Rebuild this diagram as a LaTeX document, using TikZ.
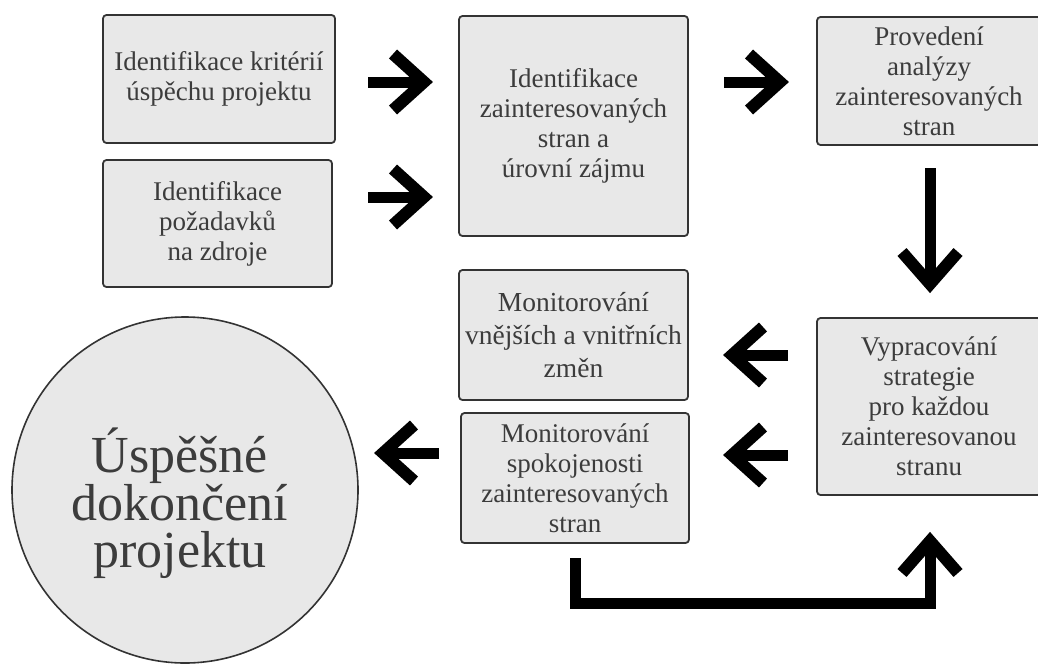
\documentclass[tikz,border=0pt]{standalone}
\usepackage{fontspec}
\setmainfont{Liberation Serif}
\usetikzlibrary{positioning}
\definecolor{boxfill}{HTML}{E8E8E8}
\definecolor{boxline}{HTML}{333333}
\definecolor{txt}{HTML}{3C3C3C}
\begin{document}
\begin{tikzpicture}[x=1pt,y=-1pt,
  stepbox/.style={draw=boxline, line width=1.8pt, fill=boxfill, rounded corners=3.5pt,
    text=txt, align=center, inner sep=0pt,
    font=\fontsize{27}{30}\selectfont},
  goal/.style={circle, draw=boxline, line width=1.6pt, fill=boxfill, minimum size=346pt,
    inner sep=0pt},
  shaft/.style={line width=11pt, line cap=butt, line join=miter},
  barb/.style={line width=12pt, line cap=butt, line join=miter, miter limit=4}]
\useasboundingbox (0,0) rectangle (1038,664);
\clip (0,0) rectangle (1038,664);

% process boxes
\node[stepbox, minimum width=232pt, minimum height=128pt] (A) at (219,79)
  {Identifikace kritérií\\úspěchu projektu};
\node[stepbox, minimum width=229pt, minimum height=127pt] (B) at (217.5,223.5)
  {Identifikace\\požadavků\\na zdroje};
\node[stepbox, minimum width=229pt, minimum height=220pt] (C) at (573.5,126)
  {Identifikace\\zainteresovaných\\stran a\\úrovní zájmu};
\node[stepbox, minimum width=224pt, minimum height=128pt] (D) at (929,81)
  {Provedení\\analýzy\\zainteresovaných\\stran};
\node[stepbox, minimum width=229pt, minimum height=130pt,
  font=\fontsize{27.5}{33}\selectfont] (E) at (573.5,335)
  {Monitorování\\vnějších a vnitřních\\změn};
\node[stepbox, minimum width=228pt, minimum height=130pt] (F) at (575,478)
  {Monitorování\\spokojenosti\\zainteresovaných\\stran};
\node[stepbox, minimum width=224pt, minimum height=177pt] (G) at (929,406.5)
  {Vypracování\\strategie\\pro každou\\zainteresovanou\\stranu};

% final goal
\node[goal] (H) at (185,490) {};
\node[text=txt, align=center, font=\fontsize{52}{47}\selectfont] (Ht) at (180,503)
  {Úspěšné\\dokončení\\projektu};

% arrow shafts: start and tip vertex
\coordinate (a1s) at (368,82);  \coordinate (a1t) at (424,82);
\coordinate (a2s) at (368,197); \coordinate (a2t) at (424,197);
\coordinate (a3s) at (724,82);  \coordinate (a3t) at (780,82);
\coordinate (a4s) at (930,168); \coordinate (a4t) at (930,284);
\coordinate (a5s) at (788,355); \coordinate (a5t) at (732,355);
\coordinate (a6s) at (788,455); \coordinate (a6t) at (732,455);
\coordinate (a7s) at (439,453); \coordinate (a7t) at (383,453);
\coordinate (b1) at (575,558);  \coordinate (b2) at (575,603);
\coordinate (b3) at (930,603);  \coordinate (b4) at (930,541);

% rightward arrows
\foreach \s/\t in {a1s/a1t, a2s/a2t, a3s/a3t}{
  \draw[shaft] (\s) -- (\t);
  \draw[barb] ([shift={(-31,-28)}]\t) -- (\t) -- ([shift={(-31,28)}]\t);
}
% leftward arrows
\foreach \s/\t in {a5s/a5t, a6s/a6t, a7s/a7t}{
  \draw[shaft] (\s) -- (\t);
  \draw[barb] ([shift={(31,-28)}]\t) -- (\t) -- ([shift={(31,28)}]\t);
}
% downward arrow
\draw[shaft] (a4s) -- (a4t);
\draw[barb] ([shift={(-28,-32)}]a4t) -- (a4t) -- ([shift={(28,-32)}]a4t);
% feedback loop back up to the strategy box
\draw[shaft] (b1) -- (b2) -- (b3) -- (b4);
\draw[barb] ([shift={(-28,32)}]b4) -- (b4) -- ([shift={(28,32)}]b4);
\end{tikzpicture}
\end{document}
